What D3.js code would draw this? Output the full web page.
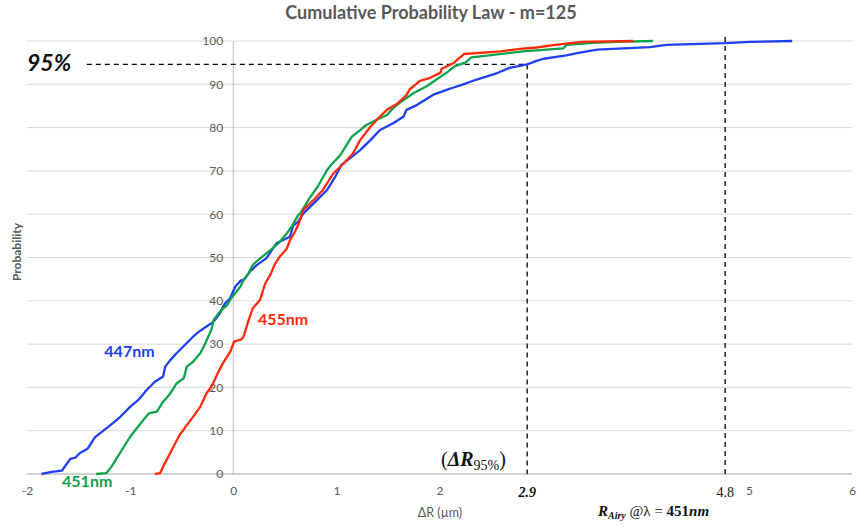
<!DOCTYPE html>
<html>
<head>
<meta charset="utf-8">
<script src="https://cdn.jsdelivr.net/npm/d3@7"></script>
<style>
  html, body { margin: 0; padding: 0; background: #fff; }
  svg { display: block; }
</style>
</head>
<body>
<svg id="chart" width="856" height="527"></svg>
<script>
// ---------- data ----------
const title = "Cumulative Probability Law - m=125";
const xTicks = [-2, -1, 0, 1, 2, 5, 6];
const yTicks = [0, 10, 20, 30, 40, 50, 60, 70, 80, 90, 100];
const seriesNames = ["447nm", "451nm", "455nm"];

const s447 = [[-1.86,0],[-1.76,0.5],[-1.66,0.8],[-1.58,3.5],[-1.53,3.8],[-1.49,4.8],[-1.41,5.9],[-1.34,8.5],[-1.20,11.1],[-1.10,13.1],[-1.00,15.5],[-0.92,17.1],[-0.84,19.4],[-0.76,21.3],[-0.68,22.5],[-0.66,24.8],[-0.61,26.3],[-0.55,27.9],[-0.47,29.8],[-0.39,31.7],[-0.32,33.1],[-0.19,35.2],[-0.13,37.1],[-0.08,39.4],[-0.03,40.6],[0.02,43.3],[0.07,44.6],[0.11,45.0],[0.16,46.7],[0.23,48.3],[0.32,49.8],[0.42,53.3],[0.55,54.8],[0.58,57.3],[0.63,58.3],[0.68,60.2],[0.78,62.5],[0.91,65.6],[0.99,68.7],[1.05,71.4],[1.13,72.9],[1.23,74.8],[1.33,77.1],[1.42,79.4],[1.55,81.0],[1.65,82.5],[1.68,84.1],[1.78,85.2],[1.94,87.6],[2.07,88.7],[2.13,89.2],[2.23,90.0],[2.36,91.1],[2.56,92.6],[2.68,93.8],[2.85,94.6],[2.94,95.4],[3.01,95.9],[3.23,96.7],[3.36,97.3],[3.53,98.0],[4.04,98.6],[4.20,99.1],[4.77,99.5],[5.01,99.8],[5.42,100]];

const s451 = [[-1.33,0],[-1.23,0.2],[-1.18,1.7],[-1.12,4.0],[-1.05,6.7],[-1.00,8.6],[-0.91,11.3],[-0.82,14.0],[-0.74,14.4],[-0.68,16.7],[-0.61,18.6],[-0.55,20.9],[-0.48,22.1],[-0.45,24.8],[-0.39,25.9],[-0.32,27.9],[-0.27,30.2],[-0.21,33.5],[-0.19,35.6],[-0.13,37.5],[-0.06,39.0],[-0.02,40.6],[0.03,42.1],[0.07,43.3],[0.10,44.8],[0.15,46.4],[0.19,48.3],[0.26,49.8],[0.34,51.3],[0.44,53.3],[0.52,55.6],[0.57,57.3],[0.63,59.8],[0.65,60.2],[0.74,63.7],[0.82,66.4],[0.91,70.2],[0.95,71.4],[1.04,73.7],[1.10,76.0],[1.15,77.9],[1.23,79.4],[1.29,80.6],[1.39,81.8],[1.49,82.9],[1.55,84.5],[1.63,86.0],[1.75,88.0],[1.88,89.6],[1.97,91.1],[2.07,92.7],[2.15,94.2],[2.25,95.0],[2.31,96.2],[2.52,96.8],[2.81,97.6],[3.20,98.3],[3.23,99.1],[3.49,99.6],[3.72,99.8],[4.07,100]];

const s455 = [[-0.76,0],[-0.71,0.2],[-0.68,1.7],[-0.63,4.0],[-0.58,6.3],[-0.52,9.0],[-0.45,11.3],[-0.39,13.2],[-0.32,15.5],[-0.26,18.6],[-0.21,20.2],[-0.15,23.3],[-0.10,25.6],[-0.03,28.2],[0.01,30.6],[0.08,31.1],[0.10,31.7],[0.15,35.6],[0.19,38.3],[0.26,40.2],[0.31,44.0],[0.36,46.0],[0.40,48.3],[0.45,50.2],[0.52,52.1],[0.55,54.0],[0.60,56.0],[0.64,58.1],[0.68,61.0],[0.78,63.3],[0.87,65.6],[0.97,69.4],[1.07,71.7],[1.16,74.0],[1.23,77.1],[1.33,80.2],[1.42,82.5],[1.49,84.1],[1.59,85.5],[1.68,87.5],[1.71,88.8],[1.81,90.8],[1.91,91.5],[2.01,92.7],[2.02,93.6],[2.13,94.8],[2.18,95.8],[2.24,97.0],[2.59,97.6],[2.78,98.2],[2.94,98.5],[3.12,99.1],[3.38,99.8],[3.88,100]];

const seriesData = [s447, s451, s455];
const seriesColors = ["#1f3ff5", "#0fa24c", "#ff2a0a"];
const labelPos = [[-1.25, 27.0], [-1.66, -3.0], [0.24, 34.5]]; // label anchors (data units)

// reference marks
const p95 = 94.6;           // horizontal dashed level
const x95 = 2.85;           // ΔR95% position (labelled 2.9)
const xAiry = 4.77;         // R_Airy position (labelled 4.8)
const dashStartX = -1.42;

// ---------- scales ----------
const svg = d3.select("#chart");
const x = d3.scaleLinear().domain([-2, 6]).range([27, 852]);
const y = d3.scaleLinear().domain([0, 100]).range([474, 41]);
const FONT = "Lato, 'Open Sans', sans-serif";
const SERIF = "'Liberation Serif', 'DejaVu Serif', serif";

// title
svg.append("text").attr("x", 431).attr("y", 19).attr("text-anchor", "middle")
  .attr("font-family", FONT).attr("font-weight", "bold").attr("font-size", 18)
  .attr("fill", "#595959").text(title);

// gridlines
svg.append("g").selectAll("line").data(yTicks.filter(d => d > 0)).join("line")
  .attr("x1", x(-2)).attr("x2", x(6)).attr("y1", d => y(d)).attr("y2", d => y(d))
  .attr("stroke", "#d9d9d9").attr("stroke-width", 1);

// y axis line at x = 0
svg.append("line").attr("x1", x(0)).attr("x2", x(0)).attr("y1", y(100)).attr("y2", y(0))
  .attr("stroke", "#bfbfbf").attr("stroke-width", 1);
// x axis line
svg.append("line").attr("x1", x(-2)).attr("x2", x(6)).attr("y1", y(0)).attr("y2", y(0))
  .attr("stroke", "#a6a6a6").attr("stroke-width", 1.2);

// axes (labels only)
const yAxis = svg.append("g").attr("transform", `translate(${x(0)},0)`)
  .call(d3.axisLeft(y).tickValues(yTicks).tickFormat(d => String(d)).tickSize(0).tickPadding(10));
const xAxis = svg.append("g").attr("transform", `translate(0,${y(0)})`)
  .call(d3.axisBottom(x).tickValues(xTicks).tickFormat(d => String(d)).tickSize(0).tickPadding(12));
[yAxis, xAxis].forEach(g => {
  g.select(".domain").remove();
  g.selectAll("text").attr("font-family", FONT).attr("font-size", 12).attr("fill", "#595959");
});

// axis titles
svg.append("text").attr("transform", "translate(21,252) rotate(-90)").attr("text-anchor", "middle")
  .attr("font-family", FONT).attr("font-weight", "bold").attr("font-size", 12)
  .attr("fill", "#595959").text("Probability");
svg.append("text").attr("x", 440).attr("y", 517).attr("text-anchor", "middle")
  .attr("font-family", FONT).attr("font-size", 12.5).attr("fill", "#595959").text("ΔR (µm)");

// dashed reference lines
const dash = "5,4";
svg.append("line").attr("x1", x(dashStartX)).attr("x2", x(x95)).attr("y1", y(p95)).attr("y2", y(p95))
  .attr("stroke", "#000").attr("stroke-width", 1.3).attr("stroke-dasharray", dash);
svg.append("line").attr("x1", x(x95)).attr("x2", x(x95)).attr("y1", y(p95)).attr("y2", y(0))
  .attr("stroke", "#000").attr("stroke-width", 1.3).attr("stroke-dasharray", dash);
svg.append("line").attr("x1", x(xAiry)).attr("x2", x(xAiry)).attr("y1", y(100) - 4).attr("y2", y(0) + 2)
  .attr("stroke", "#000").attr("stroke-width", 1.3).attr("stroke-dasharray", dash);

// series lines
const line = d3.line().x(d => x(d[0])).y(d => y(d[1]));
svg.append("g").selectAll("path").data(seriesData).join("path")
  .attr("d", line).attr("fill", "none")
  .attr("stroke", (d, i) => seriesColors[i]).attr("stroke-width", 2.3)
  .attr("stroke-linejoin", "round");

// series labels
svg.append("g").selectAll("text").data(seriesNames).join("text")
  .attr("x", (d, i) => x(labelPos[i][0])).attr("y", (d, i) => y(labelPos[i][1]))
  .attr("font-family", FONT).attr("font-weight", "bold").attr("font-size", 16)
  .attr("fill", (d, i) => seriesColors[i]).text(d => d);

// 95% label
svg.append("text").attr("x", 27).attr("y", 71)
  .attr("font-family", FONT).attr("font-weight", "bold").attr("font-style", "italic")
  .attr("font-size", 23).attr("fill", "#111").text("95%");

// (ΔR95%)
const t1 = svg.append("text").attr("x", 441).attr("y", 466)
  .attr("font-family", SERIF).attr("font-size", 20).attr("fill", "#111");
t1.append("tspan").text("(");
t1.append("tspan").attr("font-weight", "bold").attr("font-style", "italic").text("ΔR");
t1.append("tspan").attr("font-size", 14).attr("dy", 4).text("95%");
t1.append("tspan").attr("dy", -4).text(")");

// 2.9 and 4.8
svg.append("text").attr("x", x(x95)).attr("y", 497).attr("text-anchor", "middle")
  .attr("font-family", SERIF).attr("font-weight", "bold").attr("font-style", "italic")
  .attr("font-size", 14).attr("fill", "#111").text("2.9");
svg.append("text").attr("x", x(xAiry)).attr("y", 497).attr("text-anchor", "middle")
  .attr("font-family", SERIF).attr("font-size", 14).attr("fill", "#111").text("4.8");

// R_Airy @λ = 451nm
const t2 = svg.append("text").attr("x", 598).attr("y", 516)
  .attr("font-family", SERIF).attr("font-size", 15).attr("fill", "#111");
t2.append("tspan").attr("font-weight", "bold").attr("font-style", "italic").text("R");
t2.append("tspan").attr("font-weight", "bold").attr("font-style", "italic").attr("font-size", 10).attr("dy", 3).text("Airy");
t2.append("tspan").attr("dy", -3).text(" @λ = ");
t2.append("tspan").attr("font-weight", "bold").text("451");
t2.append("tspan").attr("font-weight", "bold").attr("font-style", "italic").text("nm");
</script>
</body>
</html>
